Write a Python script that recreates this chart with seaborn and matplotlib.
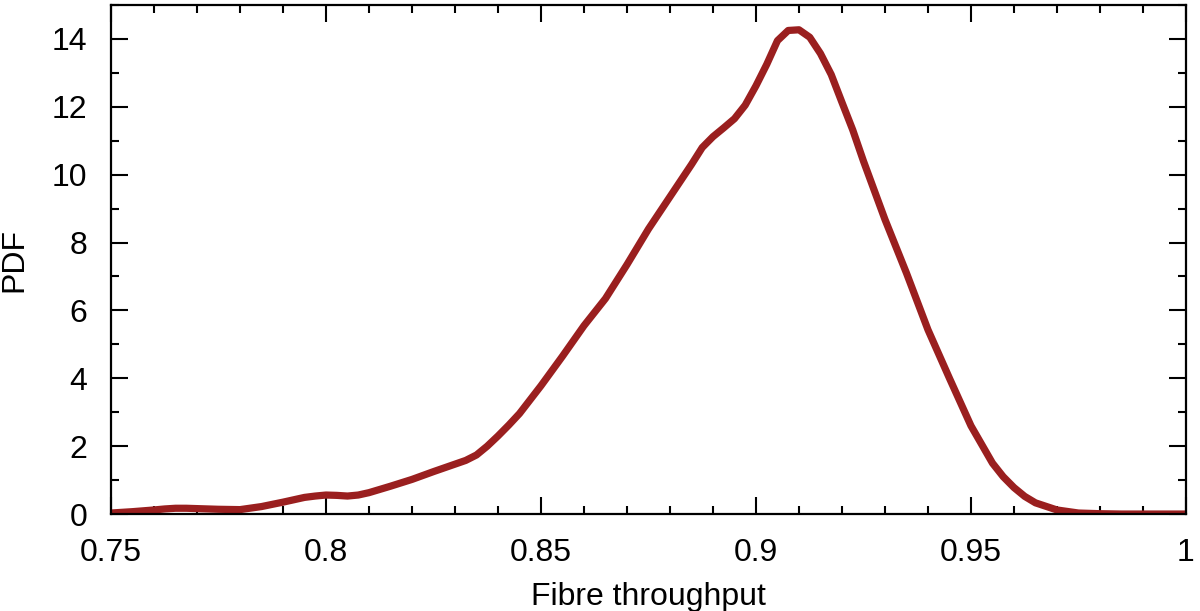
import numpy as np
import pandas as pd
import matplotlib
matplotlib.use("Agg")
import matplotlib.pyplot as plt
import seaborn as sns
from matplotlib.ticker import MultipleLocator, FuncFormatter

# === data ===
throughput = [0.750, 0.755, 0.760, 0.7625, 0.765, 0.7675, 0.770, 0.775, 0.780, 0.785,
              0.790, 0.795, 0.7975, 0.800, 0.8025, 0.805, 0.8075, 0.810, 0.815, 0.820,
              0.825, 0.830, 0.8325, 0.835, 0.8375, 0.840, 0.8425, 0.845, 0.850, 0.855,
              0.860, 0.865, 0.870, 0.875, 0.880, 0.885, 0.8875, 0.890, 0.8925, 0.895,
              0.8975, 0.900, 0.9025, 0.905, 0.9075, 0.910, 0.9125, 0.915, 0.9175, 0.920,
              0.9225, 0.925, 0.930, 0.935, 0.940, 0.945, 0.950, 0.955, 0.9575, 0.960,
              0.9625, 0.965, 0.970, 0.975, 0.980, 0.985, 0.990, 0.995, 1.000]
pdf = [0.03, 0.07, 0.12, 0.15, 0.17, 0.17, 0.16, 0.14, 0.13, 0.22,
       0.35, 0.49, 0.53, 0.56, 0.55, 0.53, 0.56, 0.63, 0.82, 1.02,
       1.25, 1.47, 1.58, 1.74, 2.00, 2.30, 2.62, 2.96, 3.78, 4.65,
       5.55, 6.35, 7.35, 8.40, 9.35, 10.30, 10.80, 11.12, 11.38, 11.65,
       12.05, 12.62, 13.25, 13.95, 14.25, 14.27, 14.05, 13.57, 12.95, 12.13,
       11.32, 10.40, 8.68, 7.10, 5.43, 4.00, 2.60, 1.50, 1.10, 0.78,
       0.52, 0.33, 0.12, 0.03, 0.01, 0.0, 0.0, 0.0, 0.0]

df = pd.DataFrame({"throughput": throughput, "pdf": pdf})

sns.set_style("ticks")
plt.rcParams["font.family"] = ["Liberation Sans", "DejaVu Sans"]

fig = plt.figure(figsize=(12, 6.11), dpi=100)
ax = fig.add_axes([0.0925, 0.1587, 0.8958, 0.8331])

sns.lineplot(data=df, x="throughput", y="pdf", ax=ax, color="#9a1f1f",
             linewidth=5.2, solid_joinstyle="round", solid_capstyle="butt")

ax.set_xlim(0.75, 1.0)
ax.set_ylim(0, 15)
ax.xaxis.set_major_locator(MultipleLocator(0.05))
ax.xaxis.set_minor_locator(MultipleLocator(0.01))
ax.yaxis.set_major_locator(MultipleLocator(2))
ax.yaxis.set_minor_locator(MultipleLocator(1))
ax.xaxis.set_major_formatter(FuncFormatter(lambda v, p: f"{v:g}"))

ax.tick_params(which="both", direction="in", top=True, right=True,
               width=1.5, colors="black", labelsize=23)
ax.tick_params(which="major", length=12)
ax.tick_params(axis="x", which="major", pad=17)
ax.tick_params(axis="y", which="major", pad=17)
ax.tick_params(which="minor", length=6)
for s in ax.spines.values():
    s.set_visible(True)
    s.set_linewidth(1.6)
    s.set_color("black")

ax.set_xlabel("Fibre throughput", fontsize=23, color="black", labelpad=10)
ax.set_ylabel("PDF", fontsize=23, color="black", labelpad=16)

fig.savefig("out.png", dpi=100)
